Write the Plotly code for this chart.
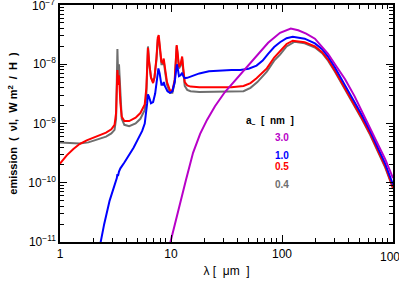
import plotly.graph_objects as go

# ---- data (wavelength in micron, emission nu*I in W m^2 / H) ----
lam_04 = [1.0, 1.2, 1.5, 1.8, 2.0, 2.3, 2.6, 2.9, 3.1, 3.2, 3.25, 3.29, 3.33, 3.37, 3.40, 3.44, 3.5, 3.6,
          3.8, 4.2, 4.8, 5.3, 5.8, 6.0, 6.1, 6.2, 6.35, 6.6, 6.9, 7.1, 7.4, 7.6, 7.75, 7.9, 8.2, 8.45, 8.6,
          8.8, 9.2, 9.8, 10.3, 10.8, 11.1, 11.25, 11.45, 11.8, 12.2, 12.6, 12.9, 13.3, 14, 15, 18, 25, 35,
          45, 52, 60, 73, 85, 96, 110, 130, 160, 198, 230, 260, 300, 370, 450, 525, 620, 735, 850, 1000]
em_04 = [4.8e-10, 4.7e-10, 4.6e-10, 4.8e-10, 5.1e-10, 5.5e-10, 6.0e-10, 6.8e-10, 7.8e-10, 1.2e-9, 4e-9,
         1.8e-8, 8e-9, 6e-9, 1.0e-8, 6e-9, 2.5e-9, 1.2e-9, 9.5e-10, 9.0e-10, 1.0e-9, 1.2e-9, 1.7e-9, 3e-9,
         8e-9, 2.0e-8, 1.1e-8, 6e-9, 5e-9, 6e-9, 1.2e-8, 2.6e-8, 2.8e-8, 2.0e-8, 1.0e-8, 1.0e-8, 1.15e-8,
         8e-9, 4.5e-9, 3.3e-9, 3.3e-9, 5e-9, 1.2e-8, 2.0e-8, 1.5e-8, 8.5e-9, 9.5e-9, 1.25e-8, 7.5e-9,
         4.3e-9, 3.7e-9, 3.5e-9, 3.4e-9, 3.4e-9, 3.4e-9, 3.5e-9, 4.0e-9, 5.0e-9, 7.5e-9, 1.15e-8, 1.45e-8,
         2.0e-8, 2.4e-8, 2.25e-8, 1.92e-8, 1.54e-8, 1.15e-8, 7.5e-9, 3.75e-9, 2.0e-9, 1.18e-9, 6.5e-10,
         3.35e-10, 1.82e-10, 8.0e-11]

lam_05 = [1.0, 1.15, 1.32, 1.5, 1.74, 2.0, 2.3, 2.6, 2.9, 3.1, 3.2, 3.25, 3.29, 3.33, 3.37, 3.40, 3.44, 3.5,
          3.6, 3.8, 4.2, 4.8, 5.3, 5.8, 6.0, 6.1, 6.2, 6.35, 6.6, 6.9, 7.1, 7.4, 7.6, 7.75, 7.9, 8.2, 8.45,
          8.6, 8.8, 9.2, 9.8, 10.3, 10.8, 11.1, 11.25, 11.45, 11.8, 12.2, 12.6, 12.9, 13.3, 14, 15, 18, 25,
          35, 45, 52, 59, 73, 85, 96, 110, 125, 160, 198, 230, 260, 300, 370, 450, 525, 620, 735, 850, 1000]
em_05 = [2.1e-10, 2.9e-10, 3.7e-10, 4.5e-10, 5.2e-10, 5.8e-10, 6.4e-10, 7.0e-10, 8.0e-10, 9.5e-10, 1.5e-9,
         3.5e-9, 8e-9, 5e-9, 4.5e-9, 6.5e-9, 4e-9, 2.2e-9, 1.3e-9, 1.1e-9, 1.1e-9, 1.25e-9, 1.5e-9, 2.1e-9,
         4e-9, 9e-9, 1.9e-8, 1.1e-8, 6e-9, 4.8e-9, 6e-9, 1.3e-8, 2.8e-8, 3.1e-8, 2.2e-8, 1.1e-8, 1.05e-8,
         1.25e-8, 9e-9, 5e-9, 3.6e-9, 3.6e-9, 5.5e-9, 1.3e-8, 2.1e-8, 1.6e-8, 9e-9, 1e-8, 1.35e-8, 8.5e-9,
         5e-9, 4.4e-9, 4.2e-9, 4.1e-9, 4.1e-9, 4.1e-9, 4.3e-9, 4.8e-9, 5.8e-9, 8.5e-9, 1.3e-8, 1.7e-8,
         2.2e-8, 2.5e-8, 2.35e-8, 2.0e-8, 1.6e-8, 1.2e-8, 7.8e-9, 3.9e-9, 2.1e-9, 1.23e-9, 6.8e-10,
         3.5e-10, 1.9e-10, 8.3e-11]

lam_10 = [2.3, 2.5, 2.8, 3.1, 3.25, 3.29, 3.33, 3.4, 3.5, 3.8, 4.2, 4.6, 5.0, 5.5, 5.8, 6.0, 6.1, 6.2, 6.35,
          6.6, 6.9, 7.2, 7.5, 7.7, 7.9, 8.2, 8.45, 8.6, 8.8, 9.3, 9.8, 10.3, 10.8, 11.1, 11.3, 11.5, 11.8,
          12.2, 12.6, 12.9, 13.3, 14, 15, 18, 22, 28, 35, 42, 50, 59, 67, 75, 85, 96, 110, 125, 160, 198,
          230, 260, 300, 370, 450, 525, 620, 735, 850, 1000]
em_10 = [9e-12, 2e-11, 5e-11, 9e-11, 1.2e-10, 1.4e-10, 1.3e-10, 1.55e-10, 1.75e-10, 2.2e-10, 2.9e-10,
         3.9e-10, 5.3e-10, 7.5e-10, 1.0e-9, 1.5e-9, 2.2e-9, 3.1e-9, 2.8e-9, 2.2e-9, 2.3e-9, 3.2e-9, 6e-9,
         8.5e-9, 7e-9, 4.5e-9, 4.5e-9, 5e-9, 4.3e-9, 3.5e-9, 3.3e-9, 3.5e-9, 5e-9, 8e-9, 1e-8, 8.5e-9,
         6.3e-9, 6.5e-9, 7.2e-9, 6.3e-9, 5.8e-9, 5.9e-9, 6.2e-9, 7e-9, 7.6e-9, 7.9e-9, 8e-9, 8e-9, 8.4e-9,
         9.5e-9, 1.15e-8, 1.5e-8, 1.95e-8, 2.35e-8, 2.75e-8, 2.9e-8, 2.7e-8, 2.25e-8, 1.8e-8, 1.35e-8,
         8.8e-9, 4.4e-9, 2.35e-9, 1.38e-9, 7.6e-10, 3.9e-10, 2.1e-10, 9.3e-11]

lam_30 = [9.6, 10.9, 12.0, 13.6, 15.8, 18.3, 21.1, 24.9, 30.6, 37.7, 46.4, 59, 75, 96, 120, 140, 165, 198,
          230, 260, 300, 370, 450, 525, 620, 735, 850, 1000]
em_30 = [8e-12, 2.16e-11, 4.5e-11, 1.09e-10, 3.2e-10, 6.7e-10, 1.15e-9, 1.96e-9, 3.4e-9, 5.3e-9, 8.2e-9,
         1.4e-8, 2.3e-8, 3.4e-8, 4.0e-8, 3.75e-8, 3.3e-8, 2.7e-8, 2.0e-8, 1.5e-8, 1.0e-8, 5.6e-9, 2.9e-9,
         1.6e-9, 8.5e-10, 4.6e-10, 2.5e-10, 1.2e-10]

series = [
    ("0.4", lam_04, em_04, "#6e6e6e"),
    ("0.5", lam_05, em_05, "#ff0000"),
    ("1.0", lam_10, em_10, "#0000ff"),
    ("3.0", lam_30, em_30, "#b800c8"),
]
legend_order = ["3.0", "1.0", "0.5", "0.4"]

x_ticks = [1, 10, 100, 1000]
x_tick_text = ["1", "10", "100", "1000"]
y_ticks = [1e-11, 1e-10, 1e-9, 1e-8, 1e-7]
y_tick_text = ["10<sup>−11</sup>", "10<sup>−10</sup>", "10<sup>−9</sup>", "10<sup>−8</sup>", "10<sup>−7</sup>"]

x_minor = [m * 10 ** k for k in range(0, 3) for m in range(2, 10)]
y_minor = [m * 10.0 ** k for k in range(-11, -7) for m in range(2, 10)]

fig = go.Figure()
for name, lam, em, col in series:
    fig.add_trace(go.Scatter(x=lam, y=em, mode="lines", name=name,
                             line=dict(color=col, width=2), showlegend=False))

font_main = "Liberation Sans, Arial, sans-serif"
tick_font = dict(family=font_main, size=12, color="black")

axis_common = dict(type="log", showgrid=False, zeroline=False, showline=True,
                   linecolor="black", linewidth=1.5, mirror="allticks",
                   ticks="inside", ticklen=7, tickwidth=1, tickcolor="black",
                   tickfont=tick_font)

# edge labels (1000 on x, 1e-7 on y) are placed as annotations so they are not auto-hidden
fig.update_xaxes(**axis_common, range=[0, 3], tickmode="array", tickvals=x_ticks,
                 ticktext=x_tick_text[:-1] + [""],
                 minor=dict(tickmode="array", tickvals=x_minor, ticks="inside", ticklen=4,
                            tickwidth=1, tickcolor="black", showgrid=False),
                 title=dict(text="λ [  μm  ]", font=dict(family=font_main, size=12, color="black"),
                            standoff=6))
fig.update_yaxes(**axis_common, range=[-11, -7], tickmode="array", tickvals=y_ticks,
                 ticktext=y_tick_text[:-1] + [""],
                 minor=dict(tickmode="array", tickvals=y_minor, ticks="inside", ticklen=4,
                            tickwidth=1, tickcolor="black", showgrid=False),
                 title=dict(text="<b>emission  (  νI,  W m<sup>2</sup>  /  H  )</b>",
                            font=dict(family=font_main, size=11, color="black"), standoff=8))

fig.add_annotation(xref="x", yref="paper", x=3, y=0, text=x_tick_text[-1], showarrow=False,
                   xanchor="center", yanchor="top", yshift=-6, font=tick_font)
fig.add_annotation(xref="paper", yref="y", x=0, y=-7, text=y_tick_text[-1], showarrow=False,
                   xanchor="right", yanchor="middle", xshift=-3, font=tick_font)

# legend as text
colors = {n: c for n, _, _, c in series}
fig.add_annotation(xref="paper", yref="paper", x=0.709, y=0.51,
                   text="<b>a<sub>–</sub>  [  nm  ]</b>", showarrow=False,
                   font=dict(family=font_main, size=10, color="black"))
for i, name in enumerate(legend_order):
    fig.add_annotation(xref="paper", yref="paper", x=0.694, y=0.439 - i * 0.0755,
                       text="<b>%s</b>" % name, showarrow=False,
                       font=dict(family=font_main, size=10, color=colors[name]))

fig.update_layout(width=399, height=285, margin=dict(l=60, r=6, t=3, b=43),
                  plot_bgcolor="white", paper_bgcolor="white")

fig.write_html("out.html", config={"displayModeBar": False},
               post_script="document.body.style.margin='0';")
